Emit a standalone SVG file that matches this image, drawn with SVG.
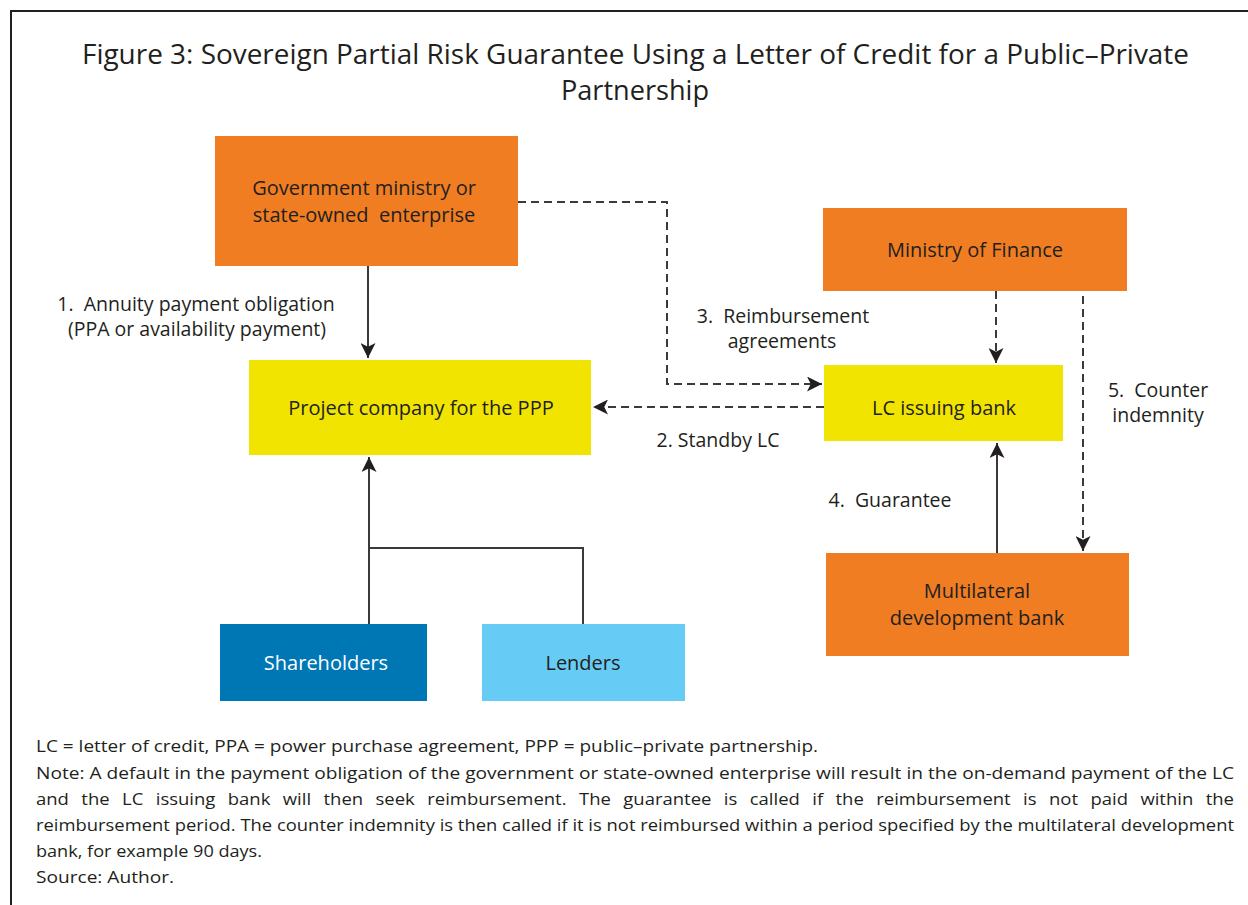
<svg xmlns="http://www.w3.org/2000/svg" width="1248" height="905" viewBox="0 0 1248 905">
<style>
.t{font-family:"Open Sans","Liberation Sans",sans-serif;fill:#231F20}
.n{font-size:20px;text-anchor:middle}
.l{font-size:19.5px;text-anchor:middle}
.f{font-size:17px}
.c{fill:none;stroke:#3a3a3a;stroke-width:2}
.d{stroke-dasharray:8,5}
</style>
<defs>
<marker id="a" viewBox="0 0 10 10" refX="10" refY="5" markerWidth="15" markerHeight="15" markerUnits="userSpaceOnUse" orient="auto">
<path d="M0,0 L10,5 L0,10 L2.5,5 z" fill="#231F20"/>
</marker>
</defs>
<rect width="1248" height="905" fill="#fff"/>
<path d="M11,905 V11 H1248" fill="none" stroke="#231F20" stroke-width="2"/>
<text class="t" x="82" y="64" font-size="27" textLength="1107" lengthAdjust="spacingAndGlyphs">Figure 3: Sovereign Partial Risk Guarantee Using a Letter of Credit for a Public–Private</text>
<text class="t" x="561" y="100" font-size="27" textLength="148" lengthAdjust="spacingAndGlyphs">Partnership</text>

<g id="connectors">
<path class="c" d="M368,266 V358" marker-end="url(#a)"/>
<path class="c d" d="M518,202 H667 V384 H822" marker-end="url(#a)"/>
<path class="c d" d="M824,407 H593" marker-end="url(#a)"/>
<path class="c d" d="M996,291 V363" marker-end="url(#a)"/>
<path class="c d" d="M1083,296 V551" marker-end="url(#a)"/>
<path class="c" d="M997,553 V443" marker-end="url(#a)"/>
<path class="c" d="M369,624 V457" marker-end="url(#a)"/>
<path class="c" d="M583,624 V548 H369"/>
</g>

<g id="gov">
<rect x="215" y="136" width="303" height="130" fill="#F07D22"/>
<text class="t n" x="364" y="195">Government ministry or</text>
<text class="t n" x="364" y="222">state-owned&#160; enterprise</text>
</g>
<g id="mof">
<rect x="823" y="208" width="304" height="83" fill="#F07D22"/>
<text class="t n" x="975" y="257">Ministry of Finance</text>
</g>
<g id="project">
<rect x="249" y="360" width="342" height="95" fill="#F0E400"/>
<text class="t n" x="421" y="415">Project company for the PPP</text>
</g>
<g id="lcbank">
<rect x="824" y="365" width="239" height="76" fill="#F0E400"/>
<text class="t n" x="944" y="415">LC issuing bank</text>
</g>
<g id="mdb">
<rect x="826" y="553" width="303" height="103" fill="#F07D22"/>
<text class="t n" x="977" y="598">Multilateral</text>
<text class="t n" x="977" y="625">development bank</text>
</g>
<g id="shareholders">
<rect x="220" y="624" width="207" height="77" fill="#0077B5"/>
<text class="t n" x="326" y="670" style="fill:#fff">Shareholders</text>
</g>
<g id="lenders">
<rect x="482" y="624" width="203" height="77" fill="#66CCF5"/>
<text class="t n" x="583" y="670">Lenders</text>
</g>

<g id="labels">
<text class="t l" x="196" y="311">1.&#160; Annuity payment obligation</text>
<text class="t l" x="197" y="336">(PPA or availability payment)</text>
<text class="t l" x="783" y="323">3.&#160; Reimbursement</text>
<text class="t l" x="782" y="348">agreements</text>
<text class="t l" x="718" y="447">2. Standby LC</text>
<text class="t l" x="890" y="507">4.&#160; Guarantee</text>
<text class="t l" x="1158" y="397">5.&#160; Counter</text>
<text class="t l" x="1158" y="422">indemnity</text>
</g>

<g id="footnote">
<text class="t f" x="36" y="752" textLength="782" lengthAdjust="spacingAndGlyphs">LC = letter of credit, PPA = power purchase agreement, PPP = public–private partnership.</text>
<text class="t f" x="36" y="779" textLength="1198" lengthAdjust="spacingAndGlyphs">Note: A default in the payment obligation of the government or state-owned enterprise will result in the on-demand payment of the LC</text>
<text class="t f" x="36" y="805" textLength="1198" lengthAdjust="spacingAndGlyphs" word-spacing="7">and the LC issuing bank will then seek reimbursement. The guarantee is called if the reimbursement is not paid within the</text>
<text class="t f" x="36" y="831" textLength="1198" lengthAdjust="spacingAndGlyphs">reimbursement period. The counter indemnity is then called if it is not reimbursed within a period specified by the multilateral development</text>
<text class="t f" x="36" y="857" textLength="226" lengthAdjust="spacingAndGlyphs">bank, for example 90 days.</text>
<text class="t f" x="36" y="883" textLength="138" lengthAdjust="spacingAndGlyphs">Source: Author.</text>
</g>
</svg>
